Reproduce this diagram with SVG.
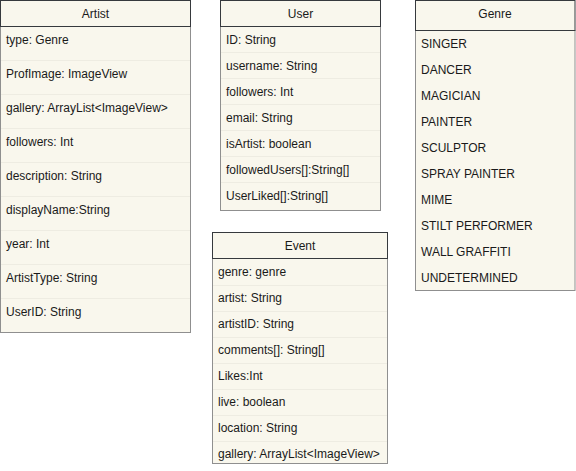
<svg xmlns="http://www.w3.org/2000/svg" width="576" height="471" viewBox="0 0 576 471">
<style>
  .body { fill: #f9f7ed; stroke: #8f8f8f; stroke-width: 1; }
  .head { fill: #f9f7ed; stroke: #36393d; stroke-width: 1; }
  .sep { stroke: #eeece2; stroke-width: 1; }
  text { font-family: "Liberation Sans", Arial, sans-serif; font-size: 12px; fill: #1a1a1a; }
  .title { text-anchor: middle; }
</style>
<rect width="576" height="471" fill="#ffffff"/>

<g id="artist">
  <rect class="body" x="0.5" y="26.5" width="190" height="306"/>
  <rect class="head" x="0.5" y="0.5" width="190" height="26"/>
  <text class="title" x="95.5" y="18">Artist</text>
  <g class="sep">
    <line x1="1" y1="60.5" x2="190" y2="60.5"/>
    <line x1="1" y1="94.5" x2="190" y2="94.5"/>
    <line x1="1" y1="128.5" x2="190" y2="128.5"/>
    <line x1="1" y1="162.5" x2="190" y2="162.5"/>
    <line x1="1" y1="196.5" x2="190" y2="196.5"/>
    <line x1="1" y1="230.5" x2="190" y2="230.5"/>
    <line x1="1" y1="264.5" x2="190" y2="264.5"/>
    <line x1="1" y1="298.5" x2="190" y2="298.5"/>
  </g>
  <text x="6" y="44">type: Genre</text>
  <text x="6" y="78">ProfImage: ImageView</text>
  <text x="6" y="112">gallery: ArrayList&lt;ImageView&gt;</text>
  <text x="6" y="146">followers: Int</text>
  <text x="6" y="180">description: String</text>
  <text x="6" y="214">displayName:String</text>
  <text x="6" y="248">year: Int</text>
  <text x="6" y="282">ArtistType: String</text>
  <text x="6" y="316">UserID: String</text>
</g>

<g id="user">
  <rect class="body" x="220.5" y="26.5" width="160" height="184"/>
  <rect class="head" x="220.5" y="0.5" width="160" height="26"/>
  <text class="title" x="300.5" y="18">User</text>
  <g class="sep">
    <line x1="221" y1="52.5" x2="380" y2="52.5"/>
    <line x1="221" y1="78.5" x2="380" y2="78.5"/>
    <line x1="221" y1="104.5" x2="380" y2="104.5"/>
    <line x1="221" y1="130.5" x2="380" y2="130.5"/>
    <line x1="221" y1="156.5" x2="380" y2="156.5"/>
    <line x1="221" y1="182.5" x2="380" y2="182.5"/>
  </g>
  <text x="226" y="44">ID: String</text>
  <text x="226" y="70">username: String</text>
  <text x="226" y="96">followers: Int</text>
  <text x="226" y="122">email: String</text>
  <text x="226" y="148">isArtist: boolean</text>
  <text x="226" y="174">followedUsers[]:String[]</text>
  <text x="226" y="200">UserLiked[]:String[]</text>
</g>

<g id="event">
  <rect class="body" x="212.5" y="258.5" width="175" height="205"/>
  <rect class="head" x="212.5" y="232.5" width="175" height="26"/>
  <text class="title" x="300" y="250">Event</text>
  <g class="sep">
    <line x1="213" y1="285.5" x2="387" y2="285.5"/>
    <line x1="213" y1="311.5" x2="387" y2="311.5"/>
    <line x1="213" y1="337.5" x2="387" y2="337.5"/>
    <line x1="213" y1="363.5" x2="387" y2="363.5"/>
    <line x1="213" y1="389.5" x2="387" y2="389.5"/>
    <line x1="213" y1="415.5" x2="387" y2="415.5"/>
    <line x1="213" y1="441.5" x2="387" y2="441.5"/>
  </g>
  <text x="218" y="276">genre: genre</text>
  <text x="218" y="302">artist: String</text>
  <text x="218" y="328">artistID: String</text>
  <text x="218" y="354">comments[]: String[]</text>
  <text x="218" y="380">Likes:Int</text>
  <text x="218" y="406">live: boolean</text>
  <text x="218" y="432">location: String</text>
  <text x="218" y="458">gallery: ArrayList&lt;ImageView&gt;</text>
</g>

<g id="genre">
  <rect class="body" x="415.5" y="30.5" width="159.5" height="260"/>
  <rect class="head" x="415.5" y="0.5" width="159.5" height="30"/>
  <text class="title" x="495" y="18">Genre</text>
  <text x="421" y="48">SINGER</text>
  <text x="421" y="74">DANCER</text>
  <text x="421" y="100">MAGICIAN</text>
  <text x="421" y="126">PAINTER</text>
  <text x="421" y="152">SCULPTOR</text>
  <text x="421" y="178">SPRAY PAINTER</text>
  <text x="421" y="204">MIME</text>
  <text x="421" y="230">STILT PERFORMER</text>
  <text x="421" y="256">WALL GRAFFITI</text>
  <text x="421" y="282">UNDETERMINED</text>
</g>

<g id="connectors"></g>
</svg>
